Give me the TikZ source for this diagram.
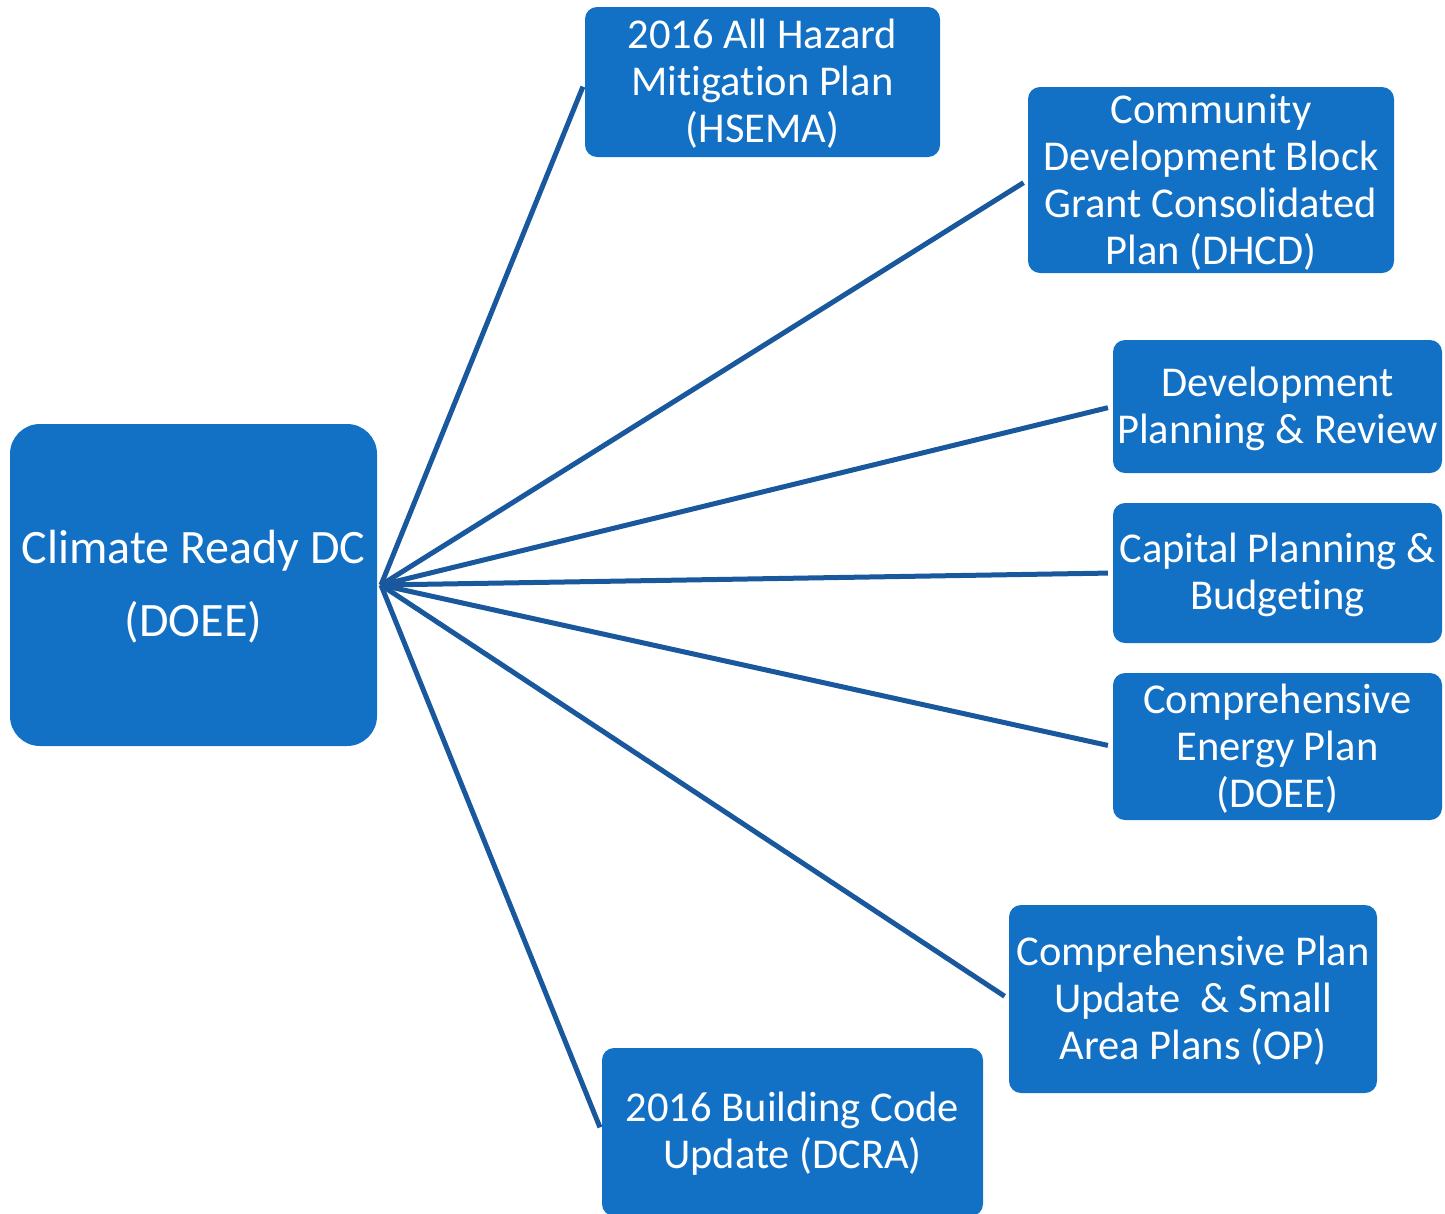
\documentclass[tikz,border=0pt]{standalone}
\usepackage{fontspec}
\setmainfont[Ligatures=NoCommon]{Carlito}
\definecolor{boxblue}{RGB}{18,112,197}
\definecolor{lineblue}{RGB}{26,88,158}
\begin{document}
\begin{tikzpicture}[x=1pt,y=-1pt,
  plan/.style={fill=boxblue, draw=none, rounded corners=12pt, inner sep=0pt},
  mainbox/.style={fill=boxblue, draw=none, rounded corners=30pt, inner sep=0pt},
  plantext/.style={text=white, align=center, inner sep=0pt, yshift=-2pt,
    font=\fontsize{42.5}{47}\selectfont},
  maintext/.style={text=white, align=center, inner sep=0pt, yshift=-2pt,
    font=\fontsize{48}{73}\selectfont},
  conn/.style={draw=lineblue, line width=5pt, shorten >=5pt}]
\useasboundingbox (0,0) rectangle (1445,1213);
\node[mainbox, minimum width=367pt, minimum height=322pt] (main) at (193.5,585) {};
\node[maintext] (maint) at (main.center) {Climate Ready DC\\(DOEE)};
\coordinate (hub) at (381,585);
\node[plan, minimum width=355pt, minimum height=150pt] (hz) at (762.5,82) {};
\node[plantext] (hzt) at (hz.center) {2016 All Hazard\\Mitigation Plan\\(HSEMA)};
\node[plan, minimum width=366pt, minimum height=186pt] (cd) at (1211,180) {};
\node[plantext] (cdt) at (cd.center) {Community\\Development Block\\Grant Consolidated\\Plan (DHCD)};
\node[plan, minimum width=329pt, minimum height=133pt] (dp) at (1277.5,406.5) {};
\node[plantext] (dpt) at (dp.center) {Development\\Planning \& Review};
\node[plan, minimum width=329pt, minimum height=140pt] (cp) at (1277.5,573) {};
\node[plantext] (cpt) at (cp.center) {Capital Planning \&\\Budgeting};
\node[plan, minimum width=329pt, minimum height=147pt] (ce) at (1277.5,746.5) {};
\node[plantext] (cet) at (ce.center) {Comprehensive\\Energy Plan\\(DOEE)};
\node[plan, minimum width=368pt, minimum height=188pt] (op) at (1193,999) {};
\node[plantext] (opt) at (op.center) {Comprehensive Plan\\Update~ \& Small\\Area Plans (OP)};
\node[plan, minimum width=381pt, minimum height=168pt] (bc) at (792.5,1132) {};
\node[plantext] (bct) at (bc.center) {2016 Building Code\\Update (DCRA)};
\draw[conn] (hub) -- (hz.west);
\draw[conn] (hub) -- (cd.west);
\draw[conn] (hub) -- (dp.west);
\draw[conn] (hub) -- (cp.west);
\draw[conn] (hub) -- (ce.west);
\draw[conn] (hub) -- (op.west);
\draw[conn] (hub) -- (bc.west);
\end{tikzpicture}
\end{document}
